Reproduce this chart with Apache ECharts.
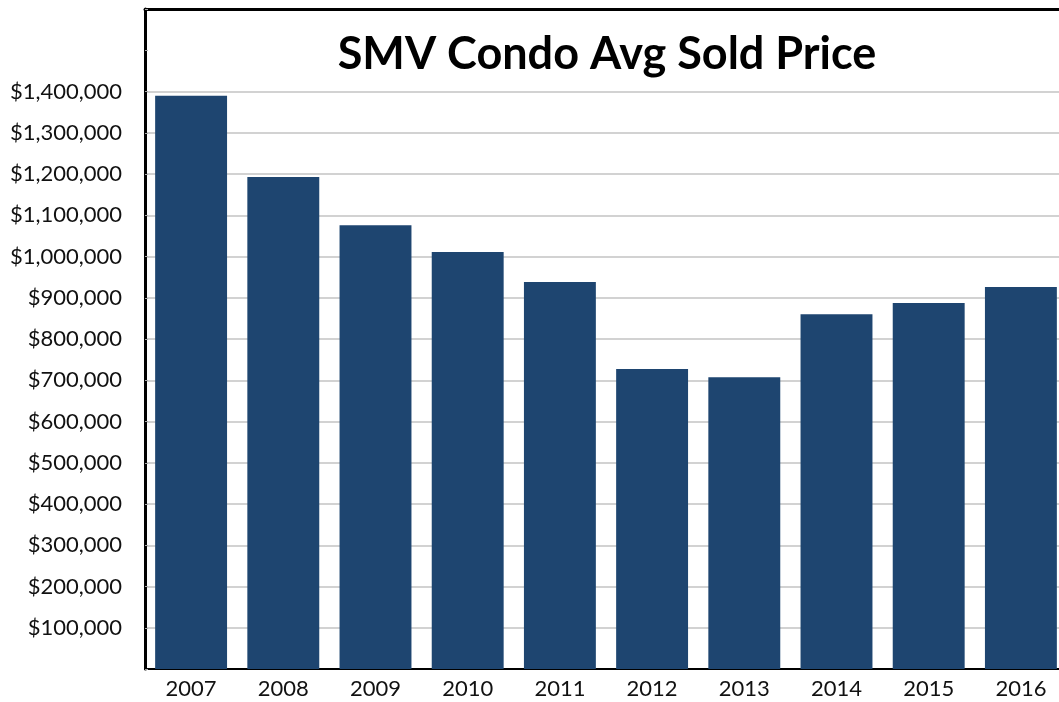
<!DOCTYPE html>
<html>
<head>
<meta charset="utf-8">
<script src="https://cdn.jsdelivr.net/npm/echarts@6/dist/echarts.min.js"></script>
<style>
  html, body { margin: 0; padding: 0; background: #fff; overflow: hidden; }
  /* a bit wider than the window: the plot runs past the right edge */
  #chart { width: 1067px; height: 702px; }
</style>
</head>
<body>
<div id="chart"></div>
<script>
// values
const years = ['2007', '2008', '2009', '2010', '2011', '2012', '2013', '2014', '2015', '2016']
const avgPrice = [1390000, 1193000, 1076000, 1011000, 938000, 727000, 707000, 860000, 887000, 926000]
const yMin = 0
const yMax = 1600000
const yStep = 100000
const lastLabel = 1400000

const font = 'Lato, "Open Sans", sans-serif'

// gridlines: hide the ones above the last labelled tick
const gridColors = []
for (let v = yMin; v <= yMax; v += yStep) {
  gridColors.push(v > lastLabel ? 'rgba(0,0,0,0)' : '#d2d2d2')
}

const chart = echarts.init(document.getElementById('chart'), null, { renderer: 'canvas' })

chart.setOption({
  animation: false,
  title: {
    text: 'SMV Condo Avg Sold Price',
    left: 602,
    top: 27,
    textAlign: 'center',
    textStyle: { fontFamily: font, fontWeight: 'bold', fontSize: 45, color: '#000' },
  },
  grid: { left: 145, right: 0, top: 9, bottom: 33 },
  xAxis: [
    {
      type: 'category',
      data: years,
      axisLine: { lineStyle: { color: '#000', width: 2 } },
      axisTick: { show: false },
      axisLabel: { fontFamily: font, fontSize: 22, color: '#111', margin: 9 },
    },
    {
      type: 'category',
      position: 'top',
      data: years,
      axisLine: { lineStyle: { color: '#000', width: 3 } },
      axisTick: { show: false },
      axisLabel: { show: false },
    },
  ],
  yAxis: {
    type: 'value',
    min: yMin,
    max: yMax,
    interval: yStep,
    axisLine: { show: true, lineStyle: { color: '#000', width: 3 } },
    axisTick: { show: true, inside: true, length: 3, lineStyle: { color: '#aaa' } },
    axisLabel: {
      fontFamily: font,
      fontSize: 22,
      color: '#111',
      margin: 23,
      formatter: v => (v === 0 || v > lastLabel) ? '' : '$' + v.toLocaleString('en-US'),
    },
    splitLine: { lineStyle: { color: gridColors, width: 2 } },
  },
  series: [{
    type: 'bar',
    data: avgPrice,
    barWidth: '78%',
    itemStyle: { color: '#1e4570' },
  }],
})
</script>
</body>
</html>
